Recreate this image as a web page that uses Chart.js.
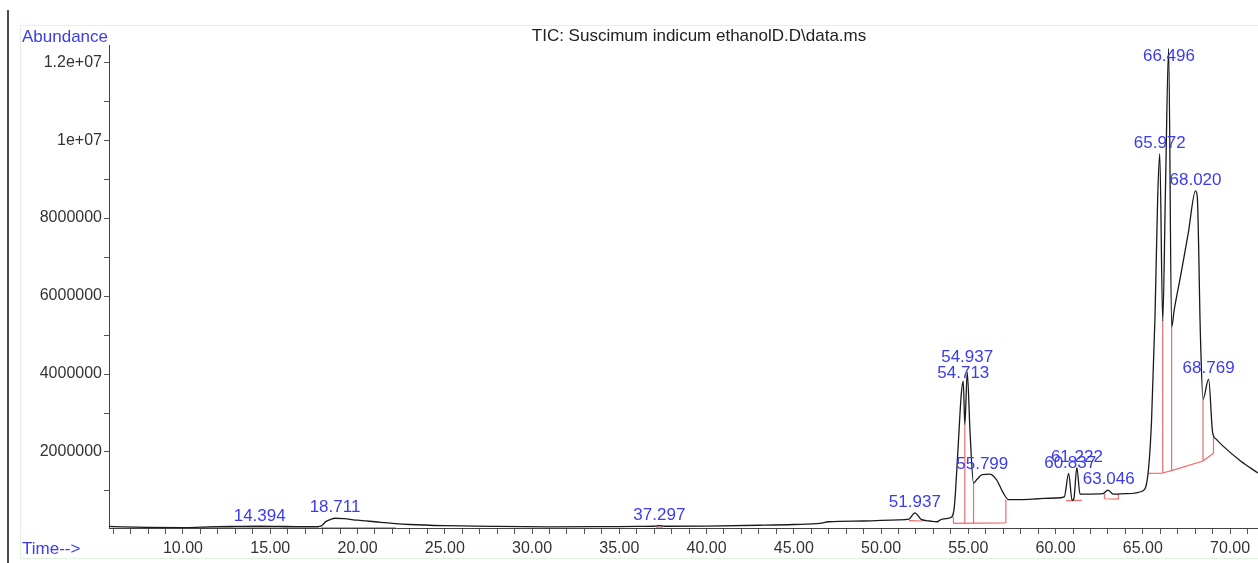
<!DOCTYPE html>
<html>
<head>
  <title>TIC chromatogram</title>
  <script src="https://cdn.jsdelivr.net/npm/chart.js"></script>
  <style>
    body { margin: 0; background: #fff; }
    #wrap { width: 1258px; height: 563px; position: relative; }
  </style>
</head>
<body>
  <div id="wrap"><canvas id="ticChart"></canvas></div>

  <script>
    // retention time (min) and abundance
    const times = [5.76, 6.5, 8, 10, 11, 12, 13, 14.4, 15.5, 16.5, 17.5, 17.9, 18.2, 18.5, 18.7, 19.2, 20, 21, 22, 23, 25, 28, 31, 34, 36, 37.0, 37.3, 37.6, 40, 43, 45, 46.5, 47, 49, 51, 51.6, 51.94, 52.3, 52.8, 53.2, 53.5, 54.0, 54.2, 54.4, 54.6, 54.71, 54.8, 54.94, 55.1, 55.3, 55.5, 55.8, 56.2, 56.6, 57.0, 57.3, 58, 59, 60, 60.5, 60.75, 60.95, 61.05, 61.22, 61.4, 62, 62.7, 63.0, 63.3, 64, 65.0, 65.3, 65.5, 65.7, 65.85, 65.97, 66.14, 66.3, 66.48, 66.65, 66.8, 67.2, 67.6, 68.02, 68.12, 68.3, 68.45, 68.77, 69.0, 69.2, 69.6, 70.6, 71.6];
    const abundance = [90000, 80000, 65000, 60000, 70000, 85000, 90000, 95000, 90000, 85000, 85000, 100000, 220000, 280000, 300000, 290000, 250000, 210000, 170000, 140000, 110000, 90000, 80000, 85000, 90000, 95000, 110000, 95000, 100000, 120000, 140000, 170000, 210000, 230000, 260000, 280000, 440000, 270000, 230000, 210000, 280000, 320000, 600000, 2000000, 3500000, 3820000, 2700000, 4050000, 2500000, 1200000, 1300000, 1420000, 1430000, 1300000, 950000, 780000, 780000, 800000, 820000, 850000, 1450000, 750000, 800000, 1600000, 920000, 920000, 930000, 1020000, 920000, 930000, 1000000, 1450000, 2800000, 5500000, 8500000, 9650000, 5350000, 8800000, 12350000, 5200000, 5650000, 6600000, 7600000, 8700000, 8550000, 5000000, 3350000, 3870000, 2500000, 2330000, 2150000, 1770000, 1460000];

    // integration baselines: [t1, a1, t2, a2]
    const baselines = [
      [11.1, 52000, 17.8, 52000],
      [17.9, 55000, 22.2, 55000],
      [37.1, 70000, 37.5, 70000],
      [51.6, 240000, 52.4, 230000],
      [54.15, 170000, 57.15, 180000],
      [60.6, 750000, 61.5, 760000],
      [62.8, 800000, 63.6, 790000],
      [65.3, 1450000, 66.14, 1460000],
      [66.14, 1460000, 66.65, 1520000],
      [66.65, 1520000, 68.45, 1770000],
      [68.45, 1770000, 69.05, 1970000]
    ];
    // drop lines: [t, from, to]
    const dropLines = [
      [54.15, 170000, 330000],
      [54.8, 170000, 2700000],
      [55.3, 170000, 1200000],
      [57.15, 180000, 780000],
      [61.0, 755000, 780000],
      [62.8, 800000, 920000],
      [63.6, 790000, 920000],
      [66.14, 1460000, 5350000],
      [66.65, 1520000, 5200000],
      [68.45, 1770000, 3350000],
      [69.05, 1970000, 2450000]
    ];

    // peak labels
    const peakTimes = [14.394, 18.711, 37.297, 51.937, 54.713, 54.937, 55.799, 60.837, 61.222, 63.046, 65.972, 66.496, 68.020, 68.769];
    const peakApex = [80000, 300000, 110000, 440000, 3750000, 4150000, 1420000, 1450000, 1600000, 1020000, 9650000, 12350000, 8700000, 3870000];
    const peakLabels = ['14.394', '18.711', '37.297', '51.937', '54.713', '54.937', '55.799', '60.837', '61.222', '63.046', '65.972', '66.496', '68.020', '68.769'];

    const yTicks = [1000000, 2000000, 3000000, 4000000, 5000000, 6000000, 7000000, 8000000, 9000000, 10000000, 11000000, 12000000];
    const yLabelTicks = [2000000, 4000000, 6000000, 8000000, 10000000, 12000000];
    const xTicks = [];
    for (let m = 6; m <= 71; m++) xTicks.push(m);

    const FONT = '"Liberation Sans", Arial, sans-serif';
    const BLUE = '#3b3bef';

    const trace = times.map((t, i) => ({ x: t, y: abundance[i] }));
    const redPts = [];
    baselines.forEach(b => { redPts.push({ x: b[0], y: b[1] }, { x: b[2], y: b[3] }, { x: b[2], y: null }); });
    dropLines.forEach(d => { redPts.push({ x: d[0], y: d[1] }, { x: d[0], y: d[2] }, { x: d[0], y: null }); });

    const decor = {
      id: 'decor',
      beforeDraw(chart) {
        const c = chart.ctx;
        c.save();
        c.strokeStyle = '#dff3df';
        c.lineWidth = 1;
        c.strokeRect(20.5, 25.5, 1300, 533);
        c.strokeStyle = '#111';
        c.lineWidth = 1.5;
        c.beginPath(); c.moveTo(8, 10); c.lineTo(8, 563); c.stroke();
        c.restore();
      },
      afterDraw(chart) {
        const c = chart.ctx;
        const xs = chart.scales.x, ys = chart.scales.y;
        c.save();
        c.font = '17px ' + FONT;
        c.fillStyle = '#222';
        c.textAlign = 'center';
        c.textBaseline = 'middle';
        c.fillText('TIC: Suscimum indicum ethanolD.D\\data.ms', 699, 36);
        c.fillStyle = BLUE;
        c.textAlign = 'left';
        c.fillText('Abundance', 22, 37);
        c.fillText('Time-->', 22, 549);
        c.textAlign = 'center';
        c.textBaseline = 'bottom';
        peakTimes.forEach((t, i) => {
          const px = xs.getPixelForValue(t);
          let py = ys.getPixelForValue(peakApex[i]) - 2;
          if (py - 15 < chart.chartArea.top) py = chart.chartArea.top + 20;
          c.fillText(peakLabels[i], px, py);
        });
        c.restore();
      }
    };

    const ctx = document.getElementById('ticChart').getContext('2d');
    new Chart(ctx, {
      type: 'line',
      data: {
        datasets: [
          {
            data: trace,
            borderColor: '#1a1a1a',
            borderWidth: 1.3,
            pointRadius: 0,
            cubicInterpolationMode: 'monotone'
          },
          {
            data: redPts,
            borderColor: '#f26a6a',
            borderWidth: 1.2,
            pointRadius: 0,
            spanGaps: false
          }
        ]
      },
      options: {
        responsive: true,
        maintainAspectRatio: false,
        animation: false,
        layout: { padding: { top: 45, right: 0, left: 0, bottom: 0 } },
        plugins: { legend: { display: false }, tooltip: { enabled: false }, title: { display: false } },
        scales: {
          x: {
            type: 'linear',
            min: 5.76,
            max: 71.6,
            afterBuildTicks: s => { s.ticks = xTicks.map(v => ({ value: v })); },
            afterFit: s => { s.height = 35; },
            border: { color: '#444', width: 1 },
            grid: { drawOnChartArea: false, drawTicks: true, tickLength: 6, color: '#555' },
            ticks: {
              autoSkip: false,
              maxRotation: 0,
              padding: 5,
              color: '#333',
              font: { family: FONT, size: 16 },
              callback: v => (v % 5 === 0 ? v.toFixed(2) : '')
            }
          },
          y: {
            min: 50000,
            max: 12440000,
            afterBuildTicks: s => { s.ticks = yTicks.map(v => ({ value: v })); },
            afterFit: s => { s.width = 109; },
            border: { color: '#444', width: 1 },
            grid: { drawOnChartArea: false, drawTicks: true, tickLength: 5, color: '#555' },
            ticks: {
              autoSkip: false,
              padding: 2,
              color: '#333',
              font: { family: FONT, size: 16 },
              callback: v => {
                if (!yLabelTicks.includes(v)) return '';
                if (v >= 10000000) return (v / 10000000) + 'e+07';
                return String(v);
              }
            }
          }
        }
      },
      plugins: [decor]
    });
  </script>
</body>
</html>
